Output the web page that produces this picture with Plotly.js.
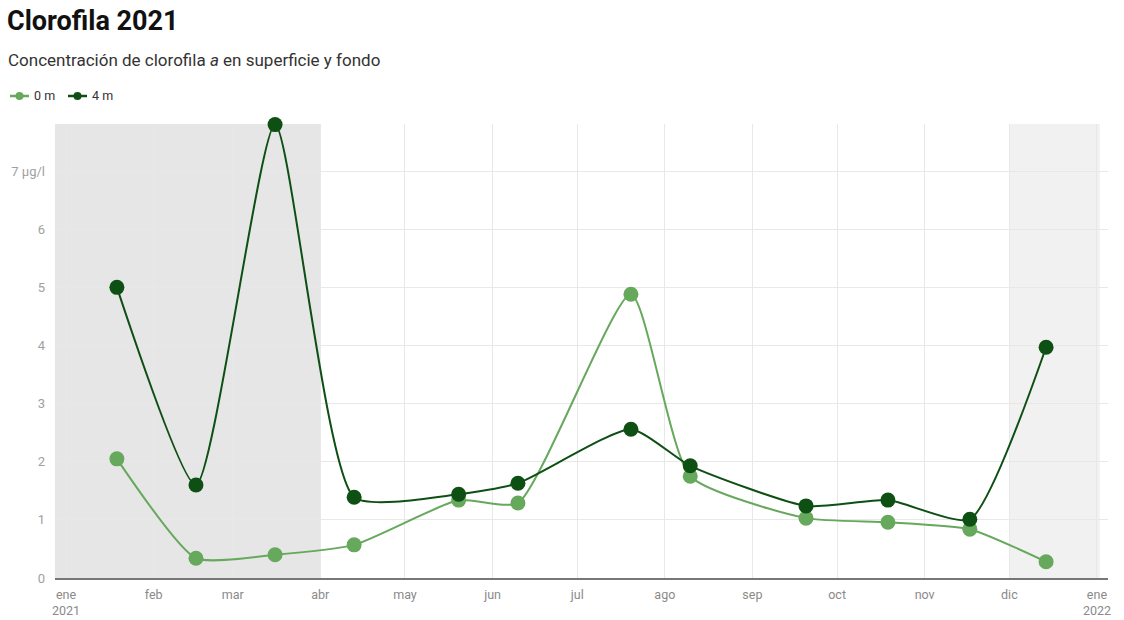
<!DOCTYPE html>
<html>
<head>
<meta charset="utf-8">
<script src="https://cdn.plot.ly/plotly-3.0.1.min.js"></script>
<style>
  html, body { margin: 0; padding: 0; background: #fff; }
  #chart { width: 1124px; height: 620px; }
</style>
</head>
<body>
<div id="chart"></div>
<script>
// Sampling dates (one visit per month)
const fechas = [
  '2021-01-19', '2021-02-16', '2021-03-16', '2021-04-13', '2021-05-20', '2021-06-10',
  '2021-07-20', '2021-08-10', '2021-09-20', '2021-10-19', '2021-11-17', '2021-12-14'
];

// Chlorophyll a concentration (µg/l)
const superficie = [2.05, 0.34, 0.40, 0.57, 1.34, 1.29, 4.88, 1.75, 1.03, 0.96, 0.84, 0.28]; // 0 m
const fondo      = [5.00, 1.60, 7.80, 1.39, 1.44, 1.63, 2.56, 1.93, 1.24, 1.34, 1.01, 3.97]; // 4 m

// Month ticks
const mesesFechas = [
  '2021-01-01', '2021-02-01', '2021-03-01', '2021-04-01', '2021-05-01', '2021-06-01', '2021-07-01',
  '2021-08-01', '2021-09-01', '2021-10-01', '2021-11-01', '2021-12-01', '2022-01-01'
];
const mesesTexto = ['ene<br>2021', 'feb', 'mar', 'abr', 'may', 'jun', 'jul', 'ago', 'sep', 'oct', 'nov', 'dic', 'ene<br>2022'];

const yTicks = [0, 1, 2, 3, 4, 5, 6, 7];
const yTexto = ['0', '1', '2', '3', '4', '5', '6', '7 µg/l'];

const series = ['0 m', '4 m'];
const verdeClaro = '#66a85c';
const verdeOscuro = '#0e4f13';
const colores = [verdeClaro, verdeOscuro];

// plot box in pixels, used to place the header items in paper units
const L = 55, R = 16, T = 124, B = 42, W = 1124, H = 620;
const pw = W - L - R, ph = H - T - B;
const px = v => (v - L) / pw;
const py = v => (H - B - v) / ph;

const traces = [superficie, fondo].map((vals, i) => ({
  name: series[i], x: fechas, y: vals, type: 'scatter', mode: 'lines+markers',
  line: { color: colores[i], width: 2, shape: 'spline', smoothing: 0.55 },
  marker: { color: colores[i], size: 15 },
  cliponaxis: false
}));

// small legend keys: short line with a dot, then the label
const legendShapes = [];
const legendNotes = [];
const keyX = [10, 68];
series.forEach((s, i) => {
  const x0 = keyX[i];
  legendShapes.push({
    type: 'line', xref: 'paper', yref: 'paper',
    x0: px(x0), x1: px(x0 + 19), y0: py(96), y1: py(96),
    line: { color: colores[i], width: 2.5 }
  });
  legendShapes.push({
    type: 'circle', xref: 'paper', yref: 'paper',
    x0: px(x0 + 9.5 - 4), x1: px(x0 + 9.5 + 4), y0: py(96 + 4), y1: py(96 - 4),
    fillcolor: colores[i], line: { width: 0 }
  });
  legendNotes.push({
    text: s, xref: 'paper', yref: 'paper', x: px(x0 + 22), y: py(96),
    xanchor: 'left', yanchor: 'middle', showarrow: false,
    font: { size: 12.5, color: '#333' }
  });
});

const layout = {
  width: W, height: H,
  margin: { l: L, r: R, t: T, b: B },
  paper_bgcolor: '#ffffff', plot_bgcolor: '#ffffff',
  font: { family: 'Roboto, "Noto Sans", sans-serif', color: '#888' },
  showlegend: false,
  title: {
    text: '<b>Clorofila 2021</b>',
    font: { size: 27, color: '#111', family: 'Roboto, sans-serif' },
    xref: 'container', yref: 'container', x: 7 / W, xanchor: 'left',
    y: 1 - 21 / H, yanchor: 'middle'
  },
  xaxis: {
    type: 'date',
    range: ['2020-12-28 02:00', '2022-01-04 22:00'],
    tickvals: mesesFechas, ticktext: mesesTexto,
    showgrid: true, gridcolor: '#e8e8e8', gridwidth: 1,
    showline: true, linecolor: '#777', linewidth: 2,
    ticks: '', tickfont: { size: 12.5, color: '#8a8a8a' },
    ticklabelstandoff: 4, automargin: false,
    zeroline: false, fixedrange: true
  },
  yaxis: {
    range: [0, 7.81],
    tickvals: yTicks, ticktext: yTexto,
    showgrid: true, gridcolor: '#e8e8e8', gridwidth: 1,
    showline: false, zeroline: false,
    ticks: '', tickfont: { size: 13, color: '#a0a0a0' },
    ticklabelstandoff: 9, automargin: false, fixedrange: true
  },
  shapes: [
    // winter shading, covers the grid
    {
      type: 'rect', layer: 'between', xref: 'x', yref: 'paper',
      x0: '2020-12-28 02:00', x1: '2021-04-01', y0: 0, y1: 1,
      fillcolor: '#e6e6e6', line: { width: 0 }
    },
    // December shading, lighter, under the grid
    {
      type: 'rect', layer: 'below', xref: 'x', yref: 'paper',
      x0: '2021-12-01', x1: '2022-01-02', y0: 0, y1: 1,
      fillcolor: '#f1f1f1', line: { width: 0 }
    }
  ].concat(legendShapes),
  annotations: [
    {
      text: 'Concentración de clorofila <i>a</i> en superficie y fondo',
      xref: 'paper', yref: 'paper', x: px(6), y: py(60),
      xanchor: 'left', yanchor: 'middle', showarrow: false,
      font: { size: 17, color: '#333' }
    }
  ].concat(legendNotes)
};

Plotly.newPlot('chart', traces, layout, { displayModeBar: false, staticPlot: true });
</script>
</body>
</html>
